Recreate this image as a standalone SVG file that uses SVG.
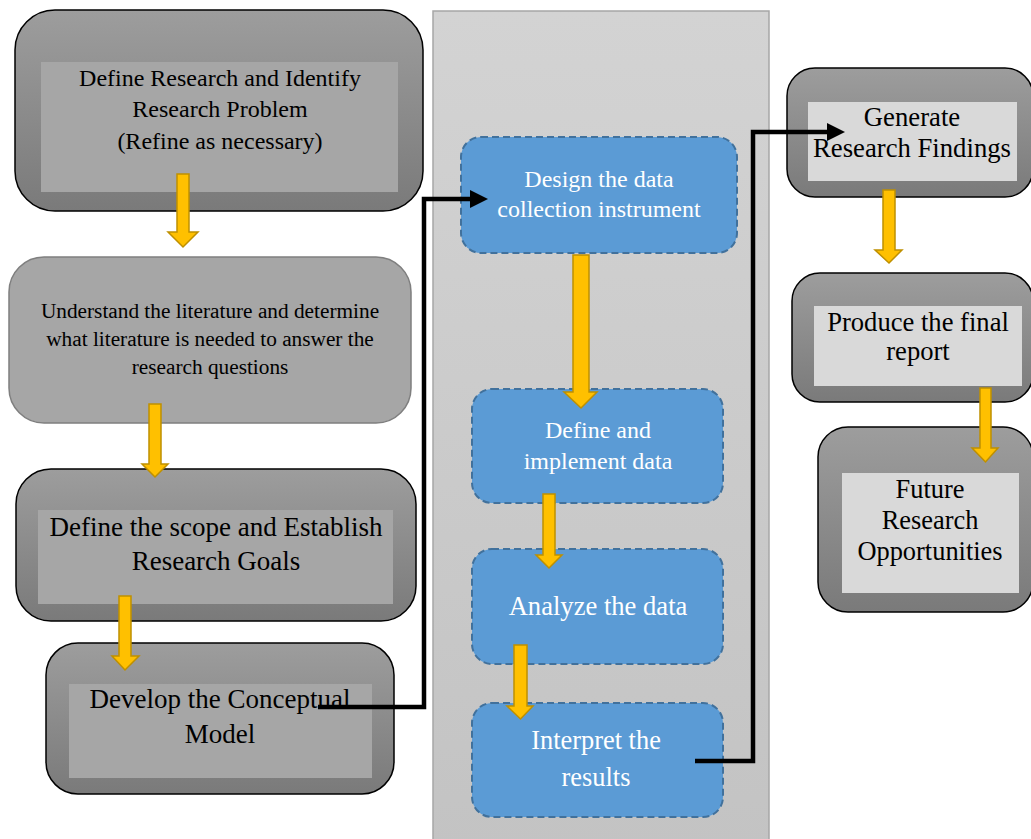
<svg xmlns="http://www.w3.org/2000/svg" width="1031" height="839" viewBox="0 0 1031 839">
<defs>
<linearGradient id="gDark" x1="0" y1="0" x2="0" y2="1">
<stop offset="0" stop-color="#9d9d9d"/>
<stop offset="1" stop-color="#7a7a7a"/>
</linearGradient>
<linearGradient id="gPanel" x1="0" y1="0" x2="0" y2="1">
<stop offset="0" stop-color="#d3d3d3"/>
<stop offset="1" stop-color="#c3c3c3"/>
</linearGradient>
<marker id="ah" markerUnits="userSpaceOnUse" markerWidth="18" markerHeight="18" refX="5" refY="9" orient="auto">
<path d="M0,0 L18,9 L0,18 Z" fill="#000"/>
</marker>
<style>
.dark{fill:url(#gDark);stroke:#000;stroke-width:1.5}
.inL{fill:#a6a6a6}
.inR{fill:#d9d9d9}
.blue{fill:#5b9bd5;stroke:#41719c;stroke-width:2;stroke-dasharray:7,4}
.t{font-family:"Liberation Serif","Times New Roman",serif;fill:#000;text-anchor:middle}
.w{font-family:"Liberation Serif","Times New Roman",serif;fill:#fff;text-anchor:middle}
.ya{fill:#ffc000;stroke:#bf9000;stroke-width:1.5}
.bk{fill:none;stroke:#000;stroke-width:4.5;stroke-linejoin:miter}
</style>
</defs>
<rect x="433" y="11" width="336" height="840" fill="url(#gPanel)" stroke="#a6a6a6" stroke-width="1.5"/>
<g id="n1">
<rect class="dark" x="15" y="10" width="408" height="201" rx="40"/>
<rect class="inL" x="41" y="62" width="357" height="130"/>
<text class="t" font-size="24" x="220" y="86">Define Research and Identify</text>
<text class="t" font-size="24" x="220" y="117">Research Problem</text>
<text class="t" font-size="24" x="220" y="149">(Refine as necessary)</text>
</g>
<g id="n2">
<rect x="9" y="257" width="402" height="166" rx="35" fill="#a6a6a6" stroke="#7f7f7f" stroke-width="1.5"/>
<text class="t" font-size="21.3" x="210" y="318">Understand the literature and determine</text>
<text class="t" font-size="21.3" x="210" y="346">what literature is needed to answer the</text>
<text class="t" font-size="21.3" x="210" y="374">research questions</text>
</g>
<g id="n3">
<rect class="dark" x="16" y="469" width="400" height="152" rx="35"/>
<rect class="inL" x="38" y="510" width="355" height="94"/>
<text class="t" font-size="27" x="216" y="536">Define the scope and Establish</text>
<text class="t" font-size="27" x="216" y="570">Research Goals</text>
</g>
<g id="n4">
<rect class="dark" x="46" y="643" width="348" height="151" rx="32"/>
<rect class="inL" x="69" y="684" width="303" height="94"/>
<text class="t" font-size="27" x="220" y="708">Develop the Conceptual</text>
<text class="t" font-size="27" x="220" y="743">Model</text>
</g>
<g id="m1">
<rect class="blue" x="461" y="137" width="276" height="116" rx="20"/>
<text class="w" font-size="24" x="599" y="187">Design the data</text>
<text class="w" font-size="24" x="599" y="217">collection instrument</text>
</g>
<g id="m2">
<rect class="blue" x="472" y="389" width="251" height="114" rx="20"/>
<text class="w" font-size="24" x="598" y="438">Define and</text>
<text class="w" font-size="24" x="598" y="469">implement data</text>
</g>
<g id="m3">
<rect class="blue" x="472" y="549" width="251" height="115" rx="20"/>
<text class="w" font-size="26.6" x="598" y="615">Analyze the data</text>
</g>
<g id="m4">
<rect class="blue" x="472" y="703" width="251" height="114" rx="20"/>
<text class="w" font-size="26.4" x="596" y="749">Interpret the</text>
<text class="w" font-size="26.4" x="596" y="786">results</text>
</g>
<g id="r1">
<rect class="dark" x="787" y="68" width="246" height="129" rx="28"/>
<rect class="inR" x="808" y="102" width="209" height="79"/>
<text class="t" font-size="26.7" x="912" y="126">Generate</text>
<text class="t" font-size="26.7" x="912" y="157">Research Findings</text>
</g>
<g id="r2">
<rect class="dark" x="792" y="273" width="241" height="129" rx="28"/>
<rect class="inR" x="814" y="306" width="208" height="80"/>
<text class="t" font-size="26.6" x="918" y="331">Produce the final</text>
<text class="t" font-size="26.6" x="918" y="360">report</text>
</g>
<g id="r3">
<rect class="dark" x="818" y="427" width="215" height="185" rx="30"/>
<rect class="inR" x="842" y="473" width="177" height="120"/>
<text class="t" font-size="26.4" x="930" y="498">Future</text>
<text class="t" font-size="26.4" x="930" y="529">Research</text>
<text class="t" font-size="26.4" x="930" y="560">Opportunities</text>
</g>
<g id="connectors">
<path class="ya" d="M177,174 H189 V232 H198 L183,247 L168,232 H177 Z"/>
<path class="ya" d="M149,404 H161 V464 H168 L155,477 L142,464 H149 Z"/>
<path class="ya" d="M119,596 H131 V656 H139 L125,670 L112,656 H119 Z"/>
<path class="ya" d="M573,255 H589 V392 H597 L581,408 L564,392 H573 Z"/>
<path class="ya" d="M543,494 H555 V555 H562 L549,568 L536,555 H543 Z"/>
<path class="ya" d="M514,645 H527 V706 H533 L520.5,719 L507,706 H514 Z"/>
<path class="ya" d="M883,190 H895 V250 H902 L889,263 L875,250 H883 Z"/>
<path class="ya" d="M980,388 H991 V448 H998 L985.5,462 L972,448 H980 Z"/>
<path class="bk" d="M318,707 H424 V199 H475" marker-end="url(#ah)"/>
<path class="bk" d="M695,761 H753 V132 H832" marker-end="url(#ah)"/>
</g>
</svg>
